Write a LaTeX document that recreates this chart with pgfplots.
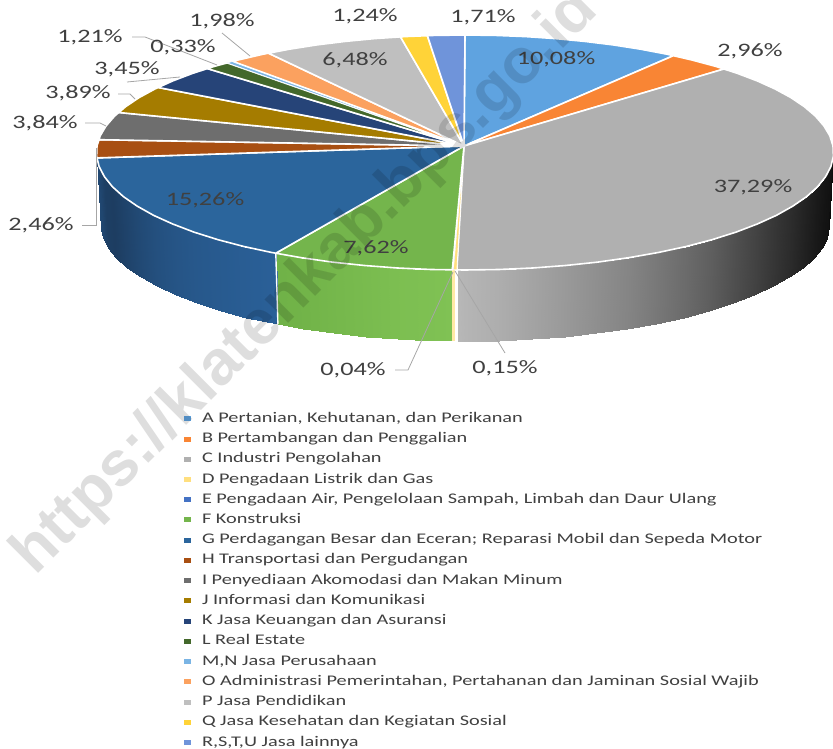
\documentclass[border=0pt]{standalone}
\usepackage{fontspec}
\setmainfont{Carlito}[FakeStretch=1.38]
\newfontfamily\wmfont{Liberation Sans}
\usepackage{pgfplots}
\pgfplotsset{compat=1.18}
\definecolor{cA}{HTML}{5FA3E0}
\definecolor{cB}{HTML}{F98534}
\definecolor{cC}{HTML}{B0B0B0}
\definecolor{cD}{HTML}{FFC000}
\definecolor{cE}{HTML}{4472C4}
\definecolor{cF}{HTML}{74B54C}
\definecolor{cG}{HTML}{2B659C}
\definecolor{cH}{HTML}{A84F12}
\definecolor{cI}{HTML}{6E6E6E}
\definecolor{cJ}{HTML}{A57C00}
\definecolor{cK}{HTML}{264478}
\definecolor{cL}{HTML}{43682B}
\definecolor{cM}{HTML}{7AB4E4}
\definecolor{cO}{HTML}{FBA15F}
\definecolor{cP}{HTML}{BFBFBF}
\definecolor{cQ}{HTML}{FFD338}
\definecolor{cR}{HTML}{6F94DA}
\definecolor{lead}{HTML}{A6A6A6}
\definecolor{lab}{HTML}{404040}
\tikzset{pct/.style={font=\fontsize{19}{19}\selectfont,text=lab,inner sep=0pt}}
\pgfplotsset{
  colormap={sideC}{color(0cm)=(black); color(1cm)=(white)},
  colormap={sideF}{rgb255(0cm)=(110,176,70); rgb255(1cm)=(128,194,84)},
  colormap={sideG}{rgb255(0cm)=(28,59,94); rgb255(1cm)=(42,96,152)},
  wedge/.style={draw=white,line width=1.6pt,line join=round},
  leader/.style={draw=lead,line width=.8pt,forget plot},
}
\begin{document}
\begin{tikzpicture}
\path[clip,use as bounding box] (0,0) rectangle (833pt,749pt);
\begin{axis}[
  at={(0,0)},anchor=south west,
  scale only axis,width=833pt,height=749pt,
  xmin=0,xmax=833,ymin=0,ymax=749,y dir=reverse,
  axis lines=none,no markers,clip=false,
  point meta min=0,point meta max=1,
  legend style={at={(0.2209,0.4505)},anchor=north west,draw=none,fill=none,
    inner sep=0pt,row sep=6.24pt,font=\fontsize{14.7}{14.7}\selectfont,text=lab,
    nodes={inner sep=0pt,text height=10.5pt,text depth=3.5pt}},
  legend cell align=left,
  legend image code/.code={\path[#1,draw=none] (0pt,-2.5pt) rectangle (7pt,2.5pt);\path (17pt,0pt);},
]
% sides of the pie
\addplot[surf,shader=interp,colormap name=sideC,mesh/cols=2,point meta=explicit,forget plot] table[meta=c] {
x y c
833 146 .05
829 217 .05
833.4 156.3 .05
829.4 227.3 .05
830.9 166.5 .07
826.9 237.5 .07
825.6 176.7 .08
821.7 247.7 .08
817.5 186.8 .10
813.7 257.8 .10
806.5 196.7 .13
802.8 267.7 .13
792.7 206.2 .17
789.1 277.2 .17
776.3 215.4 .21
772.9 286.4 .21
757.3 224 .26
754.1 295 .26
735.8 232.2 .31
732.9 303.2 .31
712 239.7 .37
709.3 310.7 .37
686.1 246.5 .42
683.7 317.5 .42
658.3 252.5 .47
656.2 323.5 .47
628.7 257.7 .52
626.9 328.7 .52
597.8 262.1 .56
596.4 333.1 .56
565.6 265.5 .60
564.5 336.5 .60
532.6 268 .64
531.9 339 .64
499 269.5 .68
498.6 340.5 .68
465 270 .71
465 341 .71
457.6 269.9 .72
457.6 340.9 .72
};
\addplot[surf,shader=interp,colormap name=sideF,mesh/cols=2,point meta=explicit,forget plot] table[meta=c] {
x y c
451 269.8 1
451 340.8 1
431 269.5 .9
431.4 340.5 .9
397.4 268 .8
398.1 339 .8
364.4 265.5 .6
365.5 336.5 .6
332.2 262.1 .4
333.6 333.1 .4
301.3 257.7 .2
303.1 328.7 .2
275.8 253.2 .1
277.9 324.2 .1
};
\addplot[surf,shader=interp,colormap name=sideG,mesh/cols=2,point meta=explicit,forget plot] table[meta=c] {
x y c
275.8 253.2 1
277.9 324.2 1
243.9 246.5 .92
246.3 317.5 .92
218 239.7 .85
220.7 310.7 .85
194.2 232.2 .78
197.1 303.2 .78
172.7 224 .68
175.9 295 .68
153.7 215.4 .55
157.1 286.4 .55
137.3 206.2 .38
140.9 277.2 .38
123.5 196.7 .2
127.2 267.7 .2
112.5 186.8 .05
116.3 257.8 .05
104.4 176.7 .1
108.3 247.7 .1
99.1 166.5 .3
103.1 237.5 .3
97 157.9 .35
101 228.9 .35
};
\addplot[fill=cD!35!white,draw=none,forget plot] coordinates {(452.3,270)(455.2,270)(455.2,341)(452.3,341)} -- cycle;
\addplot[draw=white,line width=1.4pt,forget plot] coordinates {(275.8,253.2)(277.9,324.2)};
% top of the pie
\addplot[wedge,fill=cA] coordinates {(464,146)(465,35)(495.4,35.4)(525.6,36.6)(555.4,38.6)(584.6,41.4)(613.1,44.9)(640.6,49.2)(666.9,54.2)(673.4,55.7)} -- cycle;
\addlegendentry{A Pertanian, Kehutanan, dan Perikanan}
\addplot[wedge,fill=cB] coordinates {(464,146)(673.4,55.7)(691.9,60)(715.4,66.3)(723.9,69)} -- cycle;
\addlegendentry{B Pertambangan dan Penggalian}
\addplot[wedge,fill=cC] coordinates {(464,146)(723.9,69)(737.2,73.3)(757.2,80.9)(775.1,89)(790.9,97.6)(804.4,106.7)(815.4,116.1)(823.9,125.9)(829.8,135.8)(833,146)(833.4,156.3)(830.9,166.5)(825.6,176.7)(817.5,186.8)(806.5,196.7)(792.7,206.2)(776.3,215.4)(757.3,224)(735.8,232.2)(712,239.7)(686.1,246.5)(658.3,252.5)(628.7,257.7)(597.8,262.1)(565.6,265.5)(532.6,268)(499,269.5)(465,270)(456.9,269.9)} -- cycle;
\addlegendentry{C Industri Pengolahan}
\addplot[draw=white,line width=.8pt,fill=cD,fill opacity=.5] coordinates {(464,146)(456.9,269.9)(453.2,269.8)} -- cycle;
\addlegendentry{D Pengadaan Listrik dan Gas}
\addplot[draw=white,line width=.6pt,fill=cE] coordinates {(464,146)(453.2,269.8)(452.3,269.8)} -- cycle;
\addlegendentry{E Pengadaan Air, Pengelolaan Sampah, Limbah dan Daur Ulang}
\addplot[wedge,fill=cF] coordinates {(464,146)(452.3,269.8)(431,269.5)(397.4,268)(364.4,265.5)(332.2,262.1)(301.3,257.7)(275.8,253.2)} -- cycle;
\addlegendentry{F Konstruksi}
\addplot[wedge,fill=cG] coordinates {(464,146)(275.8,253.2)(271.7,252.5)(243.9,246.5)(218,239.7)(194.2,232.2)(172.7,224)(153.7,215.4)(137.3,206.2)(123.5,196.7)(112.5,186.8)(104.4,176.7)(99.1,166.5)(97,157.9)} -- cycle;
\addlegendentry{G Perdagangan Besar dan Eceran; Reparasi Mobil dan Sepeda Motor}
\addplot[wedge,fill=cH] coordinates {(464,146)(97,157.9)(96.6,156.3)(97,146)(99,139.7)} -- cycle;
\addlegendentry{H Transportasi dan Pergudangan}
\addplot[wedge,fill=cI] coordinates {(464,146)(99,139.7)(100.2,135.8)(106.1,125.9)(114.6,116.1)(118.8,112.5)} -- cycle;
\addlegendentry{I Penyediaan Akomodasi dan Makan Minum}
\addplot[wedge,fill=cJ] coordinates {(464,146)(118.8,112.5)(125.6,106.7)(139.1,97.6)(154.9,89)(158.2,87.5)} -- cycle;
\addlegendentry{J Informasi dan Komunikasi}
\addplot[wedge,fill=cK] coordinates {(464,146)(158.2,87.5)(172.8,80.9)(192.8,73.3)(207.4,68.6)} -- cycle;
\addlegendentry{K Jasa Keuangan dan Asuransi}
\addplot[wedge,fill=cL] coordinates {(464,146)(207.4,68.6)(214.6,66.3)(227.3,62.9)} -- cycle;
\addlegendentry{L Real Estate}
\addplot[draw=white,line width=.6pt,fill=cM] coordinates {(464,146)(227.3,62.9)(232.9,61.4)} -- cycle;
\addlegendentry{M,N Jasa Perusahaan}
\addplot[wedge,fill=cO] coordinates {(464,146)(232.9,61.4)(238.1,60)(263.1,54.2)(268.5,53.2)} -- cycle;
\addlegendentry{O Administrasi Pemerintahan, Pertahanan dan Jaminan Sosial Wajib}
\addplot[wedge,fill=cP] coordinates {(464,146)(268.5,53.2)(289.4,49.2)(316.9,44.9)(345.4,41.4)(374.6,38.6)(400.5,36.9)} -- cycle;
\addlegendentry{P Jasa Pendidikan}
\addplot[wedge,fill=cQ] coordinates {(464,146)(400.5,36.9)(404.4,36.6)(427.4,35.7)} -- cycle;
\addlegendentry{Q Jasa Kesehatan dan Kegiatan Sosial}
\addplot[wedge,fill=cR] coordinates {(464,146)(427.4,35.7)(434.6,35.4)(465,35)} -- cycle;
\addlegendentry{R,S,T,U Jasa lainnya}
% leader lines
\addplot[leader] coordinates {(82,225)(96,225)(96,148)};
\addplot[leader] coordinates {(395,370)(408,370)(453,272)};
\addplot[leader] coordinates {(505,353)(455,271)};
\addplot[leader] coordinates {(85,123)(100,123)(106,126)};
\addplot[leader] coordinates {(118,94)(130,94)(135,99)};
\addplot[leader] coordinates {(127,82)(180,77)};
\addplot[leader] coordinates {(132,37)(145,37)(217,65)};
\addplot[leader] coordinates {(222,33)(250,56)};
% data labels
\node[pct] at (axis cs:556,59) {10,08\%};
\node[pct] at (axis cs:750,51) {2,96\%};
\node[pct] at (axis cs:753,187) {37,29\%};
\node[pct] at (axis cs:505,368) {0,15\%};
\node[pct] at (axis cs:353,370) {0,04\%};
\node[pct] at (axis cs:376,248) {7,62\%};
\node[pct] at (axis cs:205,200) {15,26\%};
\node[pct] at (axis cs:41,225) {2,46\%};
\node[pct] at (axis cs:45,123) {3,84\%};
\node[pct] at (axis cs:78,93) {3,89\%};
\node[pct] at (axis cs:127,69) {3,45\%};
\node[pct] at (axis cs:90,37) {1,21\%};
\node[pct] at (axis cs:183,47) {0,33\%};
\node[pct] at (axis cs:222,21) {1,98\%};
\node[pct] at (axis cs:355,60) {6,48\%};
\node[pct] at (axis cs:365,16) {1,24\%};
\node[pct] at (axis cs:483,17) {1,71\%};
\end{axis}
% watermark
\node[rotate=45,text=black,text opacity=.13,inner sep=0pt,font={\wmfont\bfseries\fontsize{63}{63}\selectfont}] at (306pt,466pt) {https://klatenkab.bps.go.id};
\end{tikzpicture}
\end{document}
